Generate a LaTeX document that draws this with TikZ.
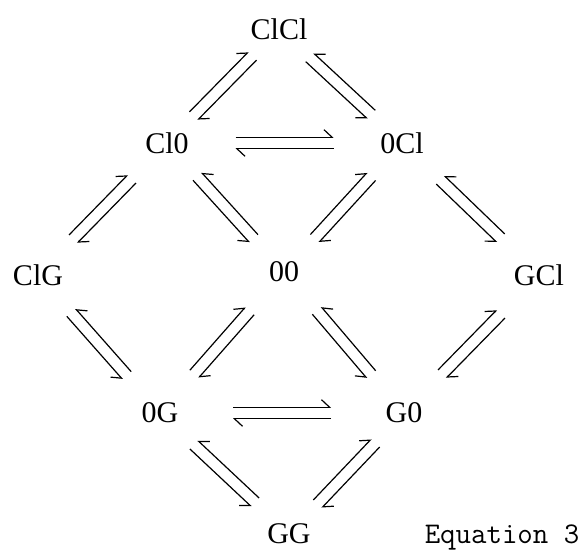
\documentclass[tikz,border=0pt]{standalone}
\usepackage{fontspec}
\setmainfont{Liberation Serif}
\usetikzlibrary{arrows.meta, positioning, calc}

\tikzset{
  lharp/.style={line width=1.2pt, -{Straight Barb[left, length=8pt, width=15pt]},
    to path={($(\tikztostart)!.5!(\tikztotarget)!#1!(\tikztostart)!5.8pt!-90:(\tikztostart)$)
      -- ($(\tikztostart)!.5!(\tikztotarget)!#1!(\tikztotarget)!5.8pt!90:(\tikztotarget)$)}},
  lharp/.default=42pt,
  rharp/.style={line width=1.2pt, -{Straight Barb[right, length=8pt, width=15pt]},
    to path={($(\tikztostart)!.5!(\tikztotarget)!#1!(\tikztostart)!5.8pt!90:(\tikztostart)$)
      -- ($(\tikztostart)!.5!(\tikztotarget)!#1!(\tikztotarget)!5.8pt!-90:(\tikztotarget)$)}},
  rharp/.default=42pt
}

\begin{document}
\begin{tikzpicture}[
	font=\fontsize{30}{34}\selectfont,
	species/.style={inner sep=1pt},
	eqlabel/.style={font=\ttfamily\fontsize{30}{34}\selectfont, inner sep=1pt},
	on grid
]
\useasboundingbox (0,0) rectangle (587pt,553pt);

\node[species] (ClCl) at (279pt,524pt) {ClCl};
\node[species, below left=114pt and 112pt of ClCl] (ClO) {Cl0};
\node[species, right=235pt of ClO] (OCl) {0Cl};
\node[species, below left=132pt and 129pt of ClO] (ClG) {ClG};
\node[species, below right=129pt and 117pt of ClO] (OO) {00};
\node[species, below right=132pt and 137pt of OCl] (GCl) {GCl};
\node[species, below right=138pt and 122pt of ClG] (OG) {0G};
\node[species, right=244pt of OG] (GO) {G0};
\node[species, below right=121pt and 129pt of OG] (GG) {GG};
\node[eqlabel, right=213pt of GG.base, anchor=base] (eqn) {Equation 3};

% equilibria
\draw[lharp] (ClO) to (ClCl);
\draw[lharp] (ClCl) to (ClO);
\draw[rharp] (ClCl) to (OCl);
\draw[rharp] (OCl) to (ClCl);
\draw[lharp=49pt] (ClO) to (OCl);
\draw[lharp=49pt] (OCl) to (ClO);
\draw[lharp] (ClG) to (ClO);
\draw[lharp] (ClO) to (ClG);
\draw[rharp] (ClO) to (OO);
\draw[rharp] (OO) to (ClO);
\draw[lharp] (OO) to (OCl);
\draw[lharp] (OCl) to (OO);
\draw[rharp] (OCl) to (GCl);
\draw[rharp] (GCl) to (OCl);
\draw[rharp] (ClG) to (OG);
\draw[rharp] (OG) to (ClG);
\draw[lharp] (OG) to (OO);
\draw[lharp] (OO) to (OG);
\draw[rharp] (OO) to (GO);
\draw[rharp] (GO) to (OO);
\draw[lharp] (GO) to (GCl);
\draw[lharp] (GCl) to (GO);
\draw[lharp=49pt] (OG) to (GO);
\draw[lharp=49pt] (GO) to (OG);
\draw[rharp] (OG) to (GG);
\draw[rharp] (GG) to (OG);
\draw[lharp] (GG) to (GO);
\draw[lharp] (GO) to (GG);

\end{tikzpicture}
\end{document}
